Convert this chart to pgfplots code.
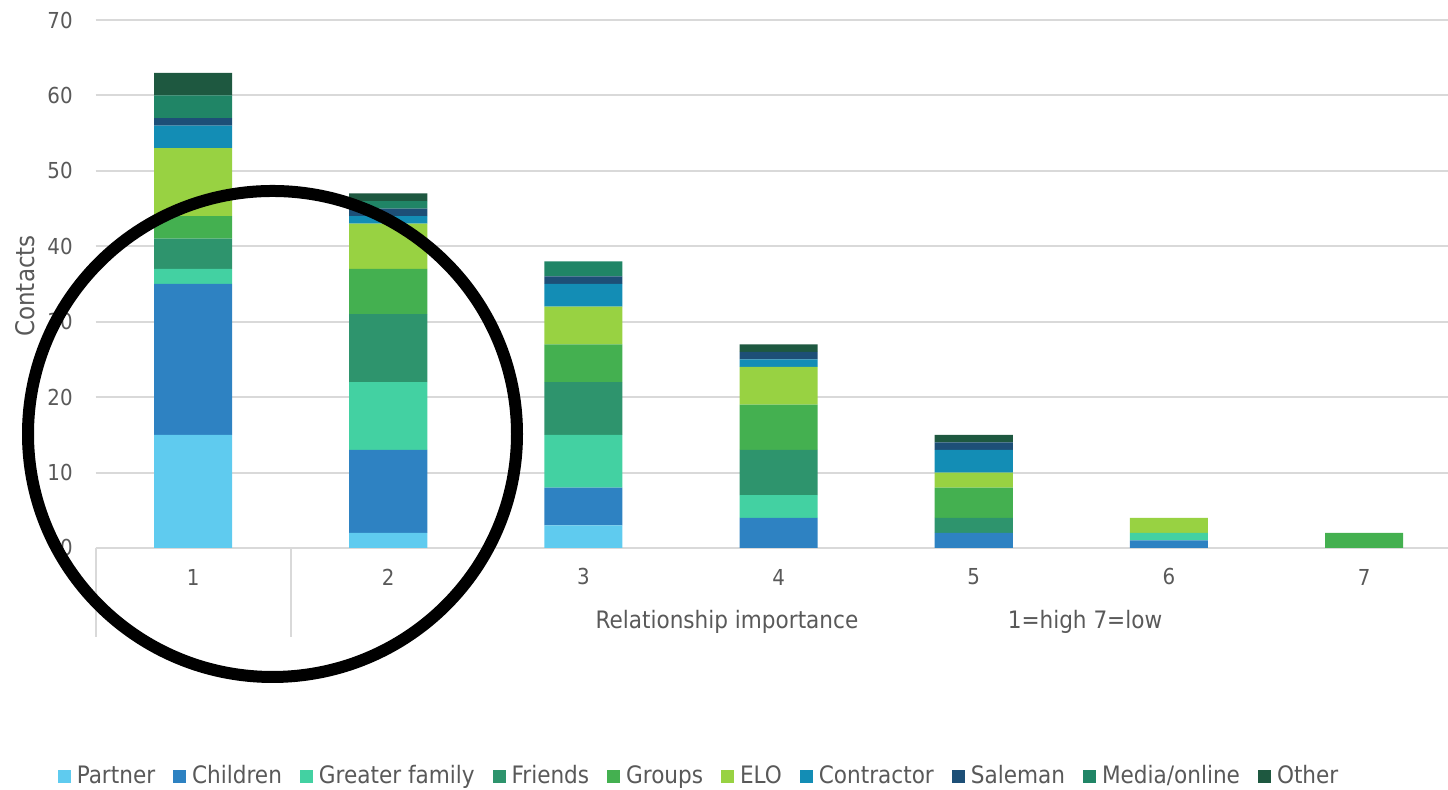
\documentclass[border=0pt]{standalone}
\usepackage{fontspec}
\setmainfont{DejaVu Sans Condensed}
\usepackage{pgfplots}
\pgfplotsset{compat=1.18}
\definecolor{cPartner}{HTML}{5FCBEF}
\definecolor{cChildren}{HTML}{2E82C2}
\definecolor{cGreater}{HTML}{43D1A2}
\definecolor{cFriends}{HTML}{2E946D}
\definecolor{cGroups}{HTML}{44B050}
\definecolor{cELO}{HTML}{98D242}
\definecolor{cContractor}{HTML}{138DB5}
\definecolor{cSaleman}{HTML}{1D4F77}
\definecolor{cMedia}{HTML}{208566}
\definecolor{cOther}{HTML}{1E5840}
\definecolor{gridgray}{HTML}{D9D9D9}
\definecolor{txtgray}{HTML}{595959}
\begin{document}
\fontsize{12}{14}\selectfont
\begin{tikzpicture}[x=1pt,y=1pt]
\path[use as bounding box] (0,0) rectangle (724,395);
\begin{axis}[
  at={(47.75pt,121pt)}, anchor=south west,
  width=676.25pt, height=264pt, scale only axis,
  xmin=0.5, xmax=7.43, ymin=0, ymax=70,
  ybar stacked, bar width=0.4,
  axis line style={draw=none},
  major tick length=0pt,
  xtick={1,...,7}, ytick={0,10,...,70},
  ymajorgrids, grid style={color=gridgray, line width=1pt},
  /pgf/number format/assume math mode=true,
  tick label style={font=\fontsize{11}{13}\selectfont, text=txtgray},
  yticklabel style={anchor=east, inner sep=0pt, xshift=-11.25pt},
  xticklabel style={anchor=center, inner sep=0pt, yshift=-14.5pt},
  legend columns=10,
  legend style={at={(0.447,-0.432)}, anchor=center, draw=none,
    font=\fontsize{12}{14}\selectfont, text=txtgray,
    /tikz/every odd column/.append style={column sep=1pt},
    /tikz/every even column/.append style={column sep=7pt},
    inner sep=0pt},
  legend cell align=left,
  legend image code/.code={\fill[#1] (0pt,-3.25pt) rectangle (6.5pt,3.25pt);},
  every axis plot/.append style={draw=none},
]
\addplot+[fill=cPartner] coordinates {(1,15) (2,2) (3,3) (4,0) (5,0) (6,0) (7,0)};
\addplot+[fill=cChildren] coordinates {(1,20) (2,11) (3,5) (4,4) (5,2) (6,1) (7,0)};
\addplot+[fill=cGreater] coordinates {(1,2) (2,9) (3,7) (4,3) (5,0) (6,1) (7,0)};
\addplot+[fill=cFriends] coordinates {(1,4) (2,9) (3,7) (4,6) (5,2) (6,0) (7,0)};
\addplot+[fill=cGroups] coordinates {(1,3) (2,6) (3,5) (4,6) (5,4) (6,0) (7,2)};
\addplot+[fill=cELO] coordinates {(1,9) (2,6) (3,5) (4,5) (5,2) (6,2) (7,0)};
\addplot+[fill=cContractor] coordinates {(1,3) (2,1) (3,3) (4,1) (5,3) (6,0) (7,0)};
\addplot+[fill=cSaleman] coordinates {(1,1) (2,1) (3,1) (4,1) (5,1) (6,0) (7,0)};
\addplot+[fill=cMedia] coordinates {(1,3) (2,1) (3,2) (4,0) (5,0) (6,0) (7,0)};
\addplot+[fill=cOther] coordinates {(1,3) (2,1) (3,0) (4,1) (5,1) (6,0) (7,0)};
\legend{Partner,Children,Greater family,Friends,Groups,ELO,Contractor,Saleman,Media/online,Other}
\end{axis}
\draw[gridgray, line width=1pt] (47.75,121) -- (47.75,76.5);
\draw[gridgray, line width=1pt] (145.25,121) -- (145.25,76.5);
\node[text=txtgray] at (363.5,84) {Relationship importance};
\node[text=txtgray] at (542.5,84) {1=high 7=low};
\node[text=txtgray, rotate=90, font=\fontsize{12.8}{14}\selectfont] at (12.5,252) {Contacts};
\draw[black, line width=6pt] (136.25,178) ellipse (122.25pt and 121.5pt);
\end{tikzpicture}
\end{document}
